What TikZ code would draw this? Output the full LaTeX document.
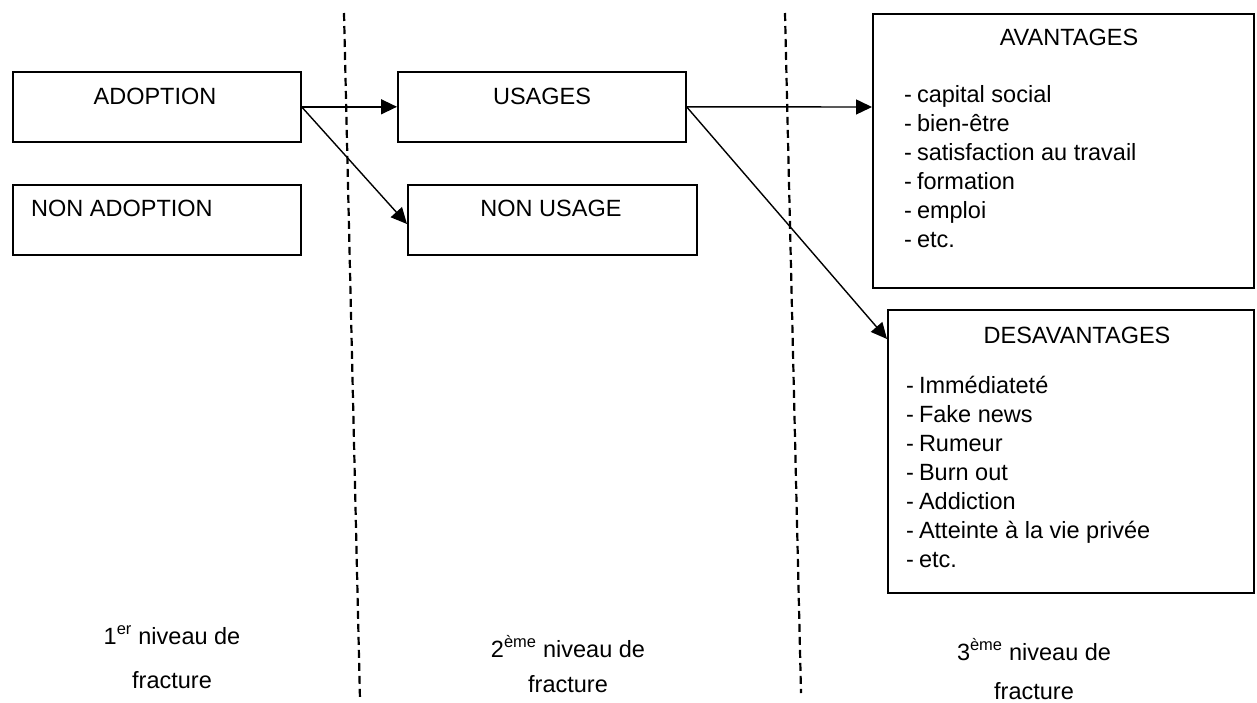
\documentclass[tikz,border=0pt]{standalone}
\usepackage{fontspec}
\setmainfont{Liberation Sans}
\usetikzlibrary{arrows.meta,calc}
\begin{document}
\begin{tikzpicture}[x=1pt,y=-1pt,
  box/.style={draw, line width=1.6pt, inner sep=0pt, anchor=north west},
  txt/.style={font=\fontsize{23.5}{28}\selectfont, inner sep=0pt, anchor=base},
  item/.style={txt, anchor=base west},
  arr/.style={line width=1.4pt, -{Triangle[length=16pt,width=15pt]}},
  sepline/.style={line width=2.2pt, dash pattern=on 8pt off 5pt}]
\useasboundingbox (0,0) rectangle (1257,702);
% boxes
\node[box, minimum width=288pt, minimum height=70pt] (adop) at (12,71) {};
\node[box, minimum width=288pt, minimum height=70pt] (nonadop) at (12,184) {};
\node[box, minimum width=288pt, minimum height=70pt] (usages) at (397,71) {};
\node[box, minimum width=289pt, minimum height=70pt] (nonusage) at (407,184) {};
\node[box, minimum width=381pt, minimum height=274pt] (avant) at (872,13) {};
\node[box, minimum width=366pt, minimum height=283pt] (desav) at (887,309) {};
% box texts
\node[txt] (tadop) at (155,104) {ADOPTION};
\node[item] (tnonadop) at (31,216) {NON ADOPTION};
\node[txt] (tusages) at (542,104) {USAGES};
\node[txt] (tnonusage) at (551,216) {NON USAGE};
\node[txt] (tavant) at (1069,45) {AVANTAGES};
\node[item] (a1) at (904,102) {-\hspace{5pt}capital social};
\node[item] (a2) at (904,131) {-\hspace{5pt}bien-être};
\node[item] (a3) at (904,160) {-\hspace{5pt}satisfaction au travail};
\node[item] (a4) at (904,189) {-\hspace{5pt}formation};
\node[item] (a5) at (904,218) {-\hspace{5pt}emploi};
\node[item] (a6) at (904,247) {-\hspace{5pt}etc.};
\node[txt] (tdesav) at (1077,343) {DESAVANTAGES};
\node[item] (d1) at (906,393) {-\hspace{5pt}Immédiateté};
\node[item] (d2) at (906,422) {-\hspace{5pt}Fake news};
\node[item] (d3) at (906,451) {-\hspace{5pt}Rumeur};
\node[item] (d4) at (906,480) {-\hspace{5pt}Burn out};
\node[item] (d5) at (906,509) {-\hspace{5pt}Addiction};
\node[item] (d6) at (906,538) {-\hspace{5pt}Atteinte à la vie privée};
\node[item] (d7) at (906,567) {-\hspace{5pt}etc.};
% level labels
\node[txt] (l1a) at (172,644) {1\textsuperscript{er} niveau de};
\node[txt] (l1b) at (172,688) {fracture};
\node[txt] (l2a) at (568,657) {2\textsuperscript{ème} niveau de};
\node[txt] (l2b) at (568,692) {fracture};
\node[txt] (l3a) at (1034,660) {3\textsuperscript{ème} niveau de};
\node[txt] (l3b) at (1034,699) {fracture};
% separators
\coordinate (s1t) at (344,13);
\coordinate (s1b) at (360,700);
\coordinate (s2t) at (785,13);
\coordinate (s2b) at (801,693);
\draw[sepline] (s1t) -- (s1b);
\draw[sepline] (s2t) -- (s2b);
% arrows
\coordinate (nuin) at (407,224);
\coordinate (avin) at (872,107);
\coordinate (dein) at (887,339);
\draw[arr] (adop.east) -- (usages.west);
\draw[arr] (adop.east) -- (nuin);
\draw[arr] (usages.east) -- (avin);
\draw[arr] (usages.east) -- (dein);
\end{tikzpicture}
\end{document}
